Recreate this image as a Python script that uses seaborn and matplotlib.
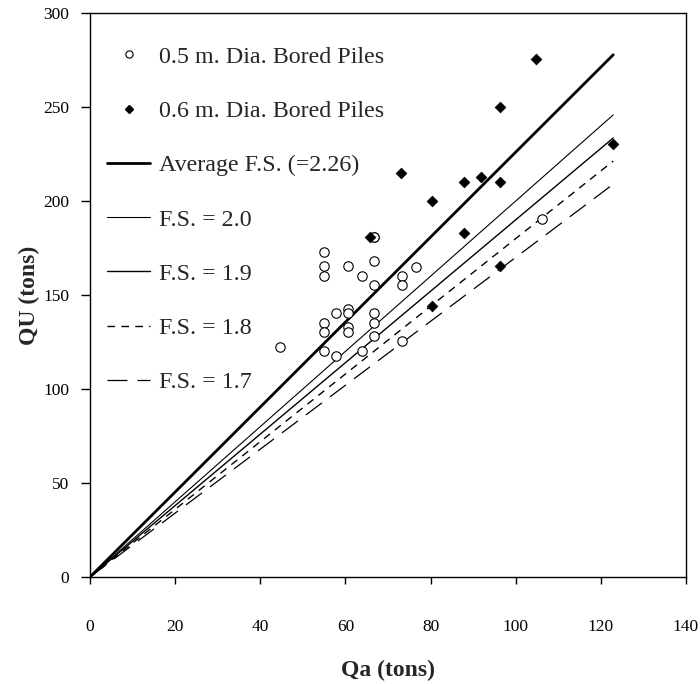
import numpy as np
import pandas as pd
import matplotlib
matplotlib.use("Agg")
import matplotlib.pyplot as plt
import seaborn as sns
from matplotlib.lines import Line2D

# ---------------- data ----------------
qa_05 = [44.6, 55.0, 55.0, 55.0, 55.0, 55.0, 55.0, 57.8, 57.8, 60.7, 60.7, 60.7,
         60.7, 60.7, 63.8, 63.8, 66.8, 66.8, 66.8, 66.8, 66.8, 66.8, 66.8,
         73.4, 73.4, 73.4, 76.6, 106.1]
qu_05 = [122.5, 172.7, 165.4, 160.3, 135.3, 130.5, 120.4, 140.6, 117.7, 165.4, 142.6, 140.2,
         132.8, 130.5, 160.3, 120.4, 180.7, 168.3, 155.3, 140.6, 135.3, 128.4, 180.7,
         160.3, 155.3, 125.7, 164.7, 190.4]

qa_06 = [65.8, 73.0, 80.3, 80.3, 87.9, 87.9, 91.9, 96.2, 96.2, 96.2, 104.8, 122.9]
qu_06 = [180.7, 215.1, 200.2, 144.3, 210.3, 182.8, 212.6, 210.3, 250.2, 165.4, 275.4, 230.3]

fs_values = [2.26, 2.0, 1.9, 1.8, 1.7]
fs_labels = ["Average F.S. (=2.26)", "F.S. = 2.0", "F.S. = 1.9", "F.S. = 1.8", "F.S. = 1.7"]
qa_line = [0.0, 122.9]

x_ticks = [0, 20, 40, 60, 80, 100, 120, 140]
y_ticks = [0, 50, 100, 150, 200, 250, 300]

# ---------------- style ----------------
sns.set_theme(style="white")
plt.rcParams["font.family"] = ["Liberation Serif", "DejaVu Serif"]
plt.rcParams["axes.edgecolor"] = "black"
plt.rcParams["axes.linewidth"] = 1.0

W, H, DPI = 700, 684, 100
fig = plt.figure(figsize=(W / DPI, H / DPI), dpi=DPI)
L, R, T, B = 90, 686, 13, 577
ax = fig.add_axes([L / W, 1 - B / H, (R - L) / W, (B - T) / H])

# lines
line_styles = [
    dict(lw=2.0, ls="-"),
    dict(lw=0.8, ls="-"),
    dict(lw=1.0, ls="-"),
    dict(lw=1.0, ls=(0, (5.5, 4.5))),
    dict(lw=0.9, ls=(0, (16, 8))),
]
handles = []
for fs, lab, st in zip(fs_values, fs_labels, line_styles):
    df = pd.DataFrame({"Qa": qa_line, "QU": [fs * q for q in qa_line]})
    sns.lineplot(data=df, x="Qa", y="QU", color="black", ax=ax, legend=False)
    ln = ax.lines[-1]
    ln.set_linewidth(st["lw"])
    ln.set_linestyle(st["ls"])
    handles.append(Line2D([], [], color="black", lw=st["lw"], ls=st["ls"], label=lab))

# points
df05 = pd.DataFrame({"Qa": qa_05, "QU": qu_05})
df06 = pd.DataFrame({"Qa": qa_06, "QU": qu_06})
sns.scatterplot(data=df05, x="Qa", y="QU", marker="o", s=46, facecolor="white",
                edgecolor="black", linewidth=0.8, ax=ax, zorder=3, legend=False)
sns.scatterplot(data=df06, x="Qa", y="QU", marker="D", s=30, color="black",
                edgecolor="black", linewidth=0.5, ax=ax, zorder=4, legend=False)

h_c = Line2D([], [], ls="none", marker="o", markersize=5.2, markerfacecolor="white",
             markeredgecolor="black", markeredgewidth=0.8, label="0.5 m. Dia. Bored Piles")
h_d = Line2D([], [], ls="none", marker="D", markersize=4.4, color="black",
             label="0.6 m. Dia. Bored Piles")

leg = ax.legend(handles=[h_c, h_d] + handles, loc="upper left",
                bbox_to_anchor=((107 - L) / (R - L), 1 - (46 - T) / (B - T)),
                frameon=False, borderpad=0, borderaxespad=0,
                fontsize=17.3, handlelength=1.8, handletextpad=0.35,
                labelspacing=1.35)

# axes
ax.set_xlim(0, 140)
ax.set_ylim(0, 300)
ax.set_xticks(x_ticks)
ax.set_yticks(y_ticks)
ax.set_xticklabels([str(v) for v in x_ticks])
ax.set_yticklabels([str(v) for v in y_ticks])
ax.tick_params(axis="x", direction="out", length=5, width=1, pad=25,
               labelsize=12.5, colors="black", bottom=True, top=False)
ax.tick_params(axis="y", direction="out", length=6.5, width=1, pad=8.5,
               labelsize=12.5, colors="black", left=True, right=False)
for sp in ax.spines.values():
    sp.set_visible(True)
    sp.set_color("black")
    sp.set_linewidth(1.0)

ax.set_xlabel("Qa (tons)", fontsize=17, fontweight="bold")
ax.set_ylabel("QU (tons)", fontsize=17, fontweight="bold")
ax.xaxis.set_label_coords(0.5, -(660 - B) / (B - T))
ax.yaxis.set_label_coords(-(L - 40) / (R - L), 0.5)

fig.savefig("out.png", dpi=DPI)
